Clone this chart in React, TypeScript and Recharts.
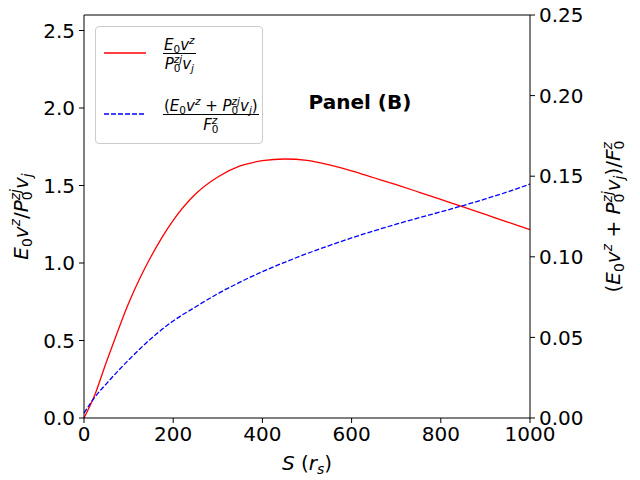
import { Legend, Line, LineChart, ReferenceLine, XAxis, YAxis, Label } from 'recharts'

const sValues = [0, 25, 50, 75, 100, 125, 150, 175, 200, 250, 300, 350, 400, 450, 500, 550, 600, 650, 700, 750, 800, 850, 900, 950, 1000]
const energyRatio = [0, 0.155, 0.36, 0.555, 0.74, 0.9, 1.04, 1.165, 1.275, 1.445, 1.555, 1.626, 1.66, 1.671, 1.662, 1.633, 1.595, 1.55, 1.505, 1.458, 1.41, 1.362, 1.313, 1.264, 1.215]
const totalRatio = [0.003, 0.0132, 0.0212, 0.0288, 0.036, 0.0428, 0.0492, 0.055, 0.0602, 0.0689, 0.0771, 0.0843, 0.0908, 0.0966, 0.102, 0.107, 0.1117, 0.1161, 0.1202, 0.1241, 0.1279, 0.1318, 0.1359, 0.1403, 0.1451]

const xTicks = [0, 200, 400, 600, 800, 1000]
const leftTicks = [0, 0.5, 1, 1.5, 2, 2.5]
const rightTicks = [0, 0.05, 0.1, 0.15, 0.2, 0.25]

const data = sValues.map((s, i) => ({ s, energy: energyRatio[i], total: totalRatio[i] }))

const FONT = 'DejaVu Sans'
const tickStyle = { fontSize: 20, fill: '#000', fontFamily: FONT }

// stacked sub/superscript, e.g. P_0^{zj}
const SubSup = ({ sup, sub }: { sup: string; sub: string }) => (
  <span style={{ display: 'inline-grid', fontSize: '0.7em', verticalAlign: 'baseline' }}>
    <span style={{ gridArea: '1 / 1', position: 'relative', top: '-0.6em', fontStyle: 'italic' }}>{sup}</span>
    <span style={{ gridArea: '1 / 1', position: 'relative', top: '0.3em' }}>{sub}</span>
  </span>
)

const Frac = ({ num, den }: { num: any; den: any }) => (
  <span style={{ display: 'inline-flex', flexDirection: 'column', alignItems: 'center' }}>
    <span style={{ height: 19, display: 'flex', alignItems: 'flex-end', borderBottom: '1px solid #000', padding: '0 1px' }}>
      <span>{num}</span>
    </span>
    <span style={{ height: 19, display: 'flex', alignItems: 'flex-start', paddingTop: 3 }}>
      <span>{den}</span>
    </span>
  </span>
)

const sub = (t: string, italic = false) => (
  <span style={{ fontSize: '0.7em', position: 'relative', top: '0.3em', fontStyle: italic ? 'italic' : 'normal' }}>{t}</span>
)
const sup = (t: string) => (
  <span style={{ fontSize: '0.7em', position: 'relative', top: '-0.6em', fontStyle: 'italic' }}>{t}</span>
)

const renderLegend = () => (
  <div
    style={{
      position: 'relative',
      width: 166,
      height: 116,
      border: '1px solid #cccccc',
      borderRadius: 4,
      background: 'rgba(255,255,255,0.8)',
      fontFamily: FONT,
      fontSize: 15,
      lineHeight: 1
    }}
  >
    <svg style={{ position: 'absolute', left: 8, top: 20 }} width={42} height={12}>
      <line x1={0} y1={6} x2={42} y2={6} stroke='#ff0000' strokeWidth={1.3} />
    </svg>
    <div style={{ position: 'absolute', left: 67, top: 7 }}>
      <Frac
        num={<span><i>E</i>{sub('0')}<i>v</i>{sup('z')}</span>}
        den={<span><i>P</i><SubSup sup='zj' sub='0' /><i>v</i>{sub('j', true)}</span>}
      />
    </div>
    <svg style={{ position: 'absolute', left: 8, top: 81 }} width={42} height={12}>
      <line x1={0} y1={6} x2={42} y2={6} stroke='#0000ff' strokeWidth={1.3} strokeDasharray='5 2' />
    </svg>
    <div style={{ position: 'absolute', left: 67, top: 68 }}>
      <Frac
        num={<span>(<i>E</i>{sub('0')}<i>v</i>{sup('z')} + <i>P</i><SubSup sup='zj' sub='0' /><i>v</i>{sub('j', true)})</span>}
        den={<span><i>F</i><SubSup sup='z' sub='0' /></span>}
      />
    </div>
  </div>
)

const LeftLabel = ({ viewBox }: any) => {
  const x = viewBox.x + 28
  const y = viewBox.y + viewBox.height / 2
  return (
    <text x={x} y={y} transform={`rotate(-90 ${x} ${y})`} textAnchor='middle' fontSize={20} fontFamily={FONT} fill='#000'>
      <tspan fontStyle='italic'>E</tspan>
      <tspan fontSize={14} dy={4}>0</tspan>
      <tspan fontStyle='italic' dy={-4}>v</tspan>
      <tspan fontSize={14} fontStyle='italic' dy={-8}>z</tspan>
      <tspan dy={8}>/</tspan>
      <tspan fontStyle='italic'>P</tspan>
      <tspan fontSize={14} dy={4}>0</tspan>
      <tspan fontSize={14} fontStyle='italic' dx={-9} dy={-12}>zj</tspan>
      <tspan fontStyle='italic' dy={8}>v</tspan>
      <tspan fontSize={14} fontStyle='italic' dy={4}>j</tspan>
    </text>
  )
}

const RightLabel = ({ viewBox }: any) => {
  const x = viewBox.x + 90
  const y = viewBox.y + viewBox.height / 2
  return (
    <text x={x} y={y} transform={`rotate(-90 ${x} ${y})`} textAnchor='middle' fontSize={20} fontFamily={FONT} fill='#000'>
      <tspan>(</tspan>
      <tspan fontStyle='italic'>E</tspan>
      <tspan fontSize={14} dy={4}>0</tspan>
      <tspan fontStyle='italic' dy={-4}>v</tspan>
      <tspan fontSize={14} fontStyle='italic' dy={-8}>z</tspan>
      <tspan dy={8}> + </tspan>
      <tspan fontStyle='italic'>P</tspan>
      <tspan fontSize={14} dy={4}>0</tspan>
      <tspan fontSize={14} fontStyle='italic' dx={-9} dy={-12}>zj</tspan>
      <tspan fontStyle='italic' dy={8}>v</tspan>
      <tspan fontSize={14} fontStyle='italic' dy={4}>j</tspan>
      <tspan dy={-4}>)/</tspan>
      <tspan fontStyle='italic'>F</tspan>
      <tspan fontSize={14} dy={4}>0</tspan>
      <tspan fontSize={14} fontStyle='italic' dx={-9} dy={-12}>z</tspan>
    </text>
  )
}

const BottomLabel = ({ viewBox }: any) => {
  const x = viewBox.x + viewBox.width / 2
  const y = viewBox.y + 52
  return (
    <text x={x} y={y} textAnchor='middle' fontSize={20} fontFamily={FONT} fill='#000'>
      <tspan fontStyle='italic'>S</tspan>
      <tspan> (</tspan>
      <tspan fontStyle='italic'>r</tspan>
      <tspan fontSize={14} fontStyle='italic' dy={4}>s</tspan>
      <tspan dy={-4}>)</tspan>
    </text>
  )
}

export default function App() {
  return (
    <div style={{ position: 'absolute', left: 0, top: 0, width: 640, height: 480, background: '#fff' }}>
      <LineChart
        width={640}
        height={480}
        data={data}
        margin={{ top: 15, right: 0, bottom: 0, left: 0 }}
        style={{ fontFamily: FONT }}
      >
        <XAxis
          dataKey='s'
          type='number'
          domain={[0, 1000]}
          ticks={xTicks}
          height={62}
          tick={tickStyle}
          tickSize={5}
          tickMargin={4}
          stroke='#000'
          interval={0}
        >
          <Label content={BottomLabel} />
        </XAxis>
        <YAxis
          yAxisId='left'
          domain={[0, 2.6]}
          ticks={leftTicks}
          width={84}
          tick={tickStyle}
          tickSize={5}
          tickMargin={4}
          stroke='#000'
          tickFormatter={(v: number) => v.toFixed(1)}
          interval={0}
        >
          <Label content={LeftLabel} />
        </YAxis>
        <YAxis
          yAxisId='right'
          orientation='right'
          domain={[0, 0.25]}
          ticks={rightTicks}
          width={110}
          tick={tickStyle}
          tickSize={5}
          tickMargin={4}
          stroke='#000'
          tickFormatter={(v: number) => v.toFixed(2)}
          interval={0}
        >
          <Label content={RightLabel} />
        </YAxis>
        <ReferenceLine yAxisId='left' y={2.6} stroke='#000' />
        <Line
          yAxisId='left'
          type='monotone'
          dataKey='energy'
          stroke='#ff0000'
          strokeWidth={1.3}
          dot={false}
          isAnimationActive={false}
        />
        <Line
          yAxisId='right'
          type='monotone'
          dataKey='total'
          stroke='#0000ff'
          strokeWidth={1.3}
          strokeDasharray='5 2'
          dot={false}
          isAnimationActive={false}
        />
        <Legend
          layout='horizontal'
          verticalAlign='middle'
          content={renderLegend}
          wrapperStyle={{ left: 95, top: 26, width: 168, height: 118 }}
        />
        <text x={360} y={109} textAnchor='middle' fontSize={20} fontWeight='bold' fontFamily={FONT} fill='#000'>
          Panel (B)
        </text>
      </LineChart>
    </div>
  )
}
